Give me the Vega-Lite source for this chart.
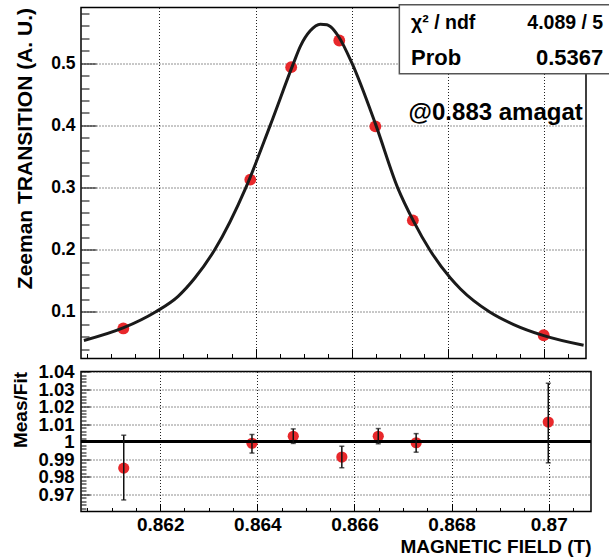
{
  "$schema": "https://vega.github.io/schema/vega-lite/v6.json",
  "background": "white",
  "padding": {"left": 11, "top": 2.5, "right": 0, "bottom": 0},
  "spacing": 1,
  "config": {
    "font": "Liberation Sans",
    "view": {"stroke": "black", "strokeWidth": 1.5},
    "axis": {
      "domain": false,
      "labelFont": "Liberation Sans",
      "labelFontWeight": "bold",
      "labelColor": "black",
      "titleFont": "Liberation Sans",
      "titleFontWeight": "bold",
      "titleColor": "black",
      "tickColor": "black",
      "tickWidth": 1,
      "gridColor": "#222222",
      "gridDash": [1, 2],
      "gridWidth": 1,
      "labelOverlap": false,
      "labelFlush": false
    }
  },
  "datasets": {
    "curve": [
      {"B": 0.86043, "v": 0.0541},
      {"B": 0.861245, "v": 0.0743},
      {"B": 0.861917, "v": 0.1},
      {"B": 0.862389, "v": 0.1252},
      {"B": 0.862737, "v": 0.1546},
      {"B": 0.86315, "v": 0.2},
      {"B": 0.863798, "v": 0.3},
      {"B": 0.864304, "v": 0.4},
      {"B": 0.864789, "v": 0.5},
      {"B": 0.86493, "v": 0.527},
      {"B": 0.865136, "v": 0.552},
      {"B": 0.865345, "v": 0.5627},
      {"B": 0.865484, "v": 0.5617},
      {"B": 0.865553, "v": 0.559},
      {"B": 0.865725, "v": 0.5429},
      {"B": 0.866004, "v": 0.5},
      {"B": 0.866503, "v": 0.4},
      {"B": 0.866953, "v": 0.3},
      {"B": 0.867286, "v": 0.2457},
      {"B": 0.86762, "v": 0.2},
      {"B": 0.86805, "v": 0.1546},
      {"B": 0.86826, "v": 0.137},
      {"B": 0.868868, "v": 0.1},
      {"B": 0.869367, "v": 0.0798},
      {"B": 0.869992, "v": 0.062},
      {"B": 0.87082, "v": 0.0465}
    ],
    "pts": [
      {"B": 0.86125, "v": 0.0735, "r": 0.9848, "lo": 0.9666, "hi": 1.0036},
      {"B": 0.86389, "v": 0.3127, "r": 0.9990, "lo": 0.9934, "hi": 1.0040},
      {"B": 0.86474, "v": 0.4936, "r": 1.0030, "lo": 0.9989, "hi": 1.0072},
      {"B": 0.86574, "v": 0.5365, "r": 0.9911, "lo": 0.9850, "hi": 0.9973},
      {"B": 0.86649, "v": 0.3983, "r": 1.0030, "lo": 0.9987, "hi": 1.0074},
      {"B": 0.86727, "v": 0.2473, "r": 0.9993, "lo": 0.9939, "hi": 1.0045},
      {"B": 0.86999, "v": 0.0626, "r": 1.0111, "lo": 0.9878, "hi": 1.0333}
    ]
  },
  "vconcat": [
    {
      "width": 505,
      "height": 351,
      "resolve": {"axis": {"x": "independent", "y": "independent"}},
      "layer": [
        {
          "data": {"name": "pts"},
          "mark": {"type": "circle", "opacity": 0},
          "encoding": {
            "x": {
              "field": "B", "type": "quantitative",
              "scale": {"domain": [0.86037, 0.87087], "nice": false, "zero": false},
              "axis": {"orient": "bottom", "title": null, "labels": false, "grid": true, "tickSize": -10,
                       "values": [0.862, 0.864, 0.866, 0.868, 0.87]}
            },
            "y": {
              "field": "v", "type": "quantitative",
              "scale": {"domain": [0.0252, 0.5895], "nice": false, "zero": false},
              "axis": {"orient": "left", "title": "Zeeman TRANSITION (A. U.)", "titleFontSize": 21,
                       "titleAnchor": "end", "titlePadding": 15, "labelFontSize": 17.5, "labelPadding": 21,
                       "grid": true, "tickSize": -15, "values": [0.1, 0.2, 0.3, 0.4, 0.5],
                       "format": ".1f"}
            }
          }
        },
        {
          "data": {"name": "pts"},
          "mark": {"type": "circle", "opacity": 0},
          "encoding": {
            "x": {
              "field": "B", "type": "quantitative",
              "scale": {"domain": [0.86037, 0.87087], "nice": false, "zero": false},
              "axis": {"orient": "bottom", "title": null, "labels": false, "grid": false, "tickSize": -5,
                       "values": [0.8605, 0.861, 0.8615, 0.8625, 0.863, 0.8635, 0.8645, 0.865, 0.8655, 0.8665, 0.867, 0.8675, 0.8685, 0.869, 0.8695, 0.8705]}
            },
            "y": {
              "field": "v", "type": "quantitative",
              "scale": {"domain": [0.0252, 0.5895], "nice": false, "zero": false},
              "axis": {"orient": "left", "title": null, "labels": false, "grid": false, "tickSize": -8,
                       "values": [0.04, 0.06, 0.08, 0.12, 0.14, 0.16, 0.18, 0.22, 0.24, 0.26, 0.28, 0.32, 0.34, 0.36, 0.38, 0.42, 0.44, 0.46, 0.48, 0.52, 0.54, 0.56, 0.58]}
            }
          }
        },
        {
          "encoding": {
            "x": {"field": "B", "type": "quantitative", "axis": null,
                  "scale": {"domain": [0.86037, 0.87087], "nice": false, "zero": false}},
            "y": {"field": "v", "type": "quantitative", "axis": null,
                  "scale": {"domain": [0.0252, 0.5895], "nice": false, "zero": false}}
          },
          "layer": [
            {
              "data": {"name": "pts"},
              "mark": {"type": "circle", "size": 140, "color": "#e8282b", "opacity": 1}
            },
            {
              "data": {"name": "curve"},
              "mark": {"type": "line", "interpolate": "monotone", "color": "#1a1a1a", "strokeWidth": 3, "clip": true}
            },
            {
              "data": {"values": [{"B": 0.866989, "B2": 0.8714, "v": 0.4830, "v2": 0.5938}]},
              "mark": {"type": "rect", "fill": "white", "stroke": "#555555", "strokeWidth": 1.5},
              "encoding": {"x2": {"field": "B2"}, "y2": {"field": "v2"}}
            },
            {
              "data": {"values": [{"B": 0.867232, "v": 0.5557, "label": "χ² / ndf"}]},
              "mark": {"type": "text", "align": "left", "baseline": "alphabetic", "fontSize": 19.5, "fontWeight": "bold", "color": "black"},
              "encoding": {"text": {"field": "label"}}
            },
            {
              "data": {"values": [{"B": 0.871228, "v": 0.5557, "label": "4.089  /  5"}]},
              "mark": {"type": "text", "align": "right", "baseline": "alphabetic", "fontSize": 19.5, "fontWeight": "bold", "color": "black"},
              "encoding": {"text": {"field": "label"}}
            },
            {
              "data": {"values": [{"B": 0.867232, "v": 0.4974, "label": "Prob"}]},
              "mark": {"type": "text", "align": "left", "baseline": "alphabetic", "fontSize": 22, "fontWeight": "bold", "color": "black"},
              "encoding": {"text": {"field": "label"}}
            },
            {
              "data": {"values": [{"B": 0.871228, "v": 0.4974, "label": "0.5367"}]},
              "mark": {"type": "text", "align": "right", "baseline": "alphabetic", "fontSize": 22, "fontWeight": "bold", "color": "black"},
              "encoding": {"text": {"field": "label"}}
            },
            {
              "data": {"values": [{"B": 0.867182, "v": 0.4091, "label": "@0.883 amagat"}]},
              "mark": {"type": "text", "align": "left", "baseline": "alphabetic", "fontSize": 24, "fontWeight": "bold", "color": "black"},
              "encoding": {"text": {"field": "label"}}
            }
          ]
        }
      ]
    },
    {
      "width": 510,
      "height": 140,
      "data": {"name": "pts"},
      "resolve": {"axis": {"x": "independent", "y": "independent"}},
      "layer": [
        {
          "mark": {"type": "circle", "opacity": 0},
          "encoding": {
            "x": {
              "field": "B", "type": "quantitative",
              "scale": {"domain": [0.86037, 0.87087], "nice": false, "zero": false},
              "axis": {"orient": "bottom", "title": "MAGNETIC FIELD (T)", "titleFontSize": 19, "titleAnchor": "end",
                       "titlePadding": 3.5, "labelFontSize": 19, "labelPadding": 11.6, "grid": true, "tickSize": -8,
                       "values": [0.862, 0.864, 0.866, 0.868, 0.87], "format": ".3~f"}
            },
            "y": {
              "field": "r", "type": "quantitative",
              "scale": {"domain": [0.96, 1.04], "nice": false, "zero": false},
              "axis": {"orient": "left", "title": "Meas/Fit", "titleFontSize": 19, "titleAnchor": "end",
                       "titlePadding": 7, "labelFontSize": 18.5, "labelPadding": 16, "grid": true, "tickSize": -9,
                       "values": [0.97, 0.98, 0.99, 1, 1.01, 1.02, 1.03, 1.04], "format": ".2~f"}
            }
          }
        },
        {
          "mark": {"type": "circle", "opacity": 0},
          "encoding": {
            "x": {
              "field": "B", "type": "quantitative",
              "scale": {"domain": [0.86037, 0.87087], "nice": false, "zero": false},
              "axis": {"orient": "bottom", "title": null, "labels": false, "grid": false, "tickSize": -4,
                       "values": [0.8605, 0.861, 0.8615, 0.8625, 0.863, 0.8635, 0.8645, 0.865, 0.8655, 0.8665, 0.867, 0.8675, 0.8685, 0.869, 0.8695, 0.8705]}
            },
            "y": {
              "field": "r", "type": "quantitative",
              "scale": {"domain": [0.96, 1.04], "nice": false, "zero": false},
              "axis": {"orient": "left", "title": null, "labels": false, "grid": false, "tickSize": -5,
                       "values": [0.962, 0.964, 0.966, 0.968, 0.972, 0.974, 0.976, 0.978, 0.982, 0.984, 0.986, 0.988, 0.992, 0.994, 0.996, 0.998, 1.002, 1.004, 1.006, 1.008, 1.012, 1.014, 1.016, 1.018, 1.022, 1.024, 1.026, 1.028, 1.032, 1.034, 1.036, 1.038]}
            }
          }
        },
        {
          "encoding": {
            "x": {"field": "B", "type": "quantitative", "axis": null,
                  "scale": {"domain": [0.86037, 0.87087], "nice": false, "zero": false}}
          },
          "layer": [
            {
              "mark": {"type": "circle", "size": 125, "color": "#e8282b", "opacity": 1},
              "encoding": {"y": {"field": "r", "type": "quantitative", "axis": null,
                                 "scale": {"domain": [0.96, 1.04], "nice": false, "zero": false}}}
            },
            {
              "mark": {"type": "rule", "color": "black", "strokeWidth": 2.5},
              "encoding": {"x": null, "y": {"datum": 1, "type": "quantitative", "axis": null}}
            },
            {
              "mark": {"type": "rule", "color": "#111111", "strokeWidth": 1.5},
              "encoding": {"y": {"field": "lo", "type": "quantitative", "axis": null}, "y2": {"field": "hi"}}
            },
            {
              "mark": {"type": "tick", "orient": "horizontal", "color": "#111111", "size": 5, "thickness": 1.5},
              "encoding": {"y": {"field": "lo", "type": "quantitative", "axis": null}}
            },
            {
              "mark": {"type": "tick", "orient": "horizontal", "color": "#111111", "size": 5, "thickness": 1.5},
              "encoding": {"y": {"field": "hi", "type": "quantitative", "axis": null}}
            }
          ]
        }
      ]
    }
  ]
}
